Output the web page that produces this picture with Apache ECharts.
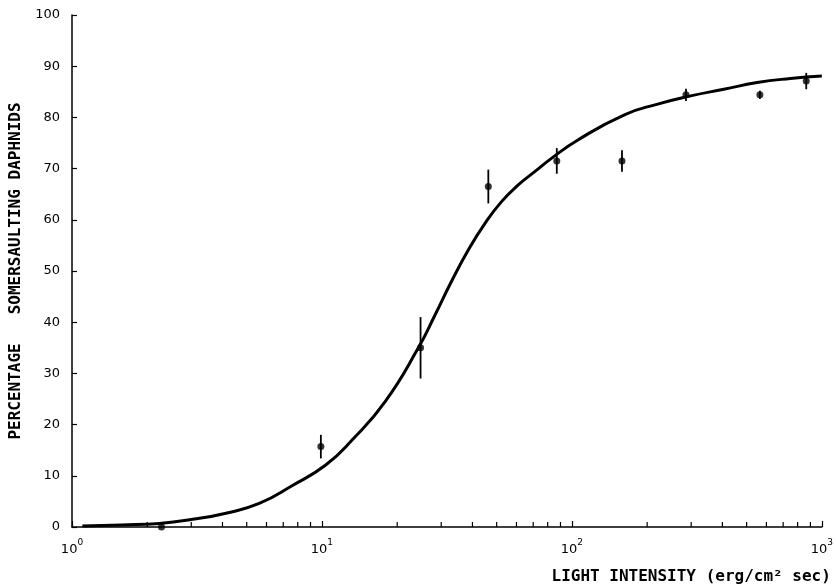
<!DOCTYPE html>
<html>
<head>
<meta charset="utf-8">
<title>Somersaulting daphnids</title>
<script src="https://cdn.jsdelivr.net/npm/echarts@6/dist/echarts.min.js"></script>
<style>
    html, body { margin: 0; padding: 0; background: #fff; }
    #main { width: 836px; height: 586px; }
</style>
</head>
<body>
<div id="main"></div>
<script>
// measured points (light intensity, percentage, error half-length)
var pointX = [2.28, 9.9, 24.8, 46.3, 87, 158.6, 286, 565, 866];
var pointY = [0, 15.7, 35, 66.5, 71.5, 71.5, 84.4, 84.4, 87.1];
var pointErr = [0, 2.3, 6, 3.3, 2.5, 2.1, 1.2, 0.8, 1.6];

// fitted curve
var curveX = [1.1, 1.58, 2.24, 3.04, 4.13, 5.61, 7.62, 10.35, 13.2, 17.9, 24.3, 28.4, 33, 38.5, 44.9, 52.2, 61, 71, 82.8, 105.7, 162.2, 220.3, 298.5, 405.5, 550.8, 748.2, 1000];
var curveY = [0.2, 0.4, 0.7, 1.5, 2.7, 4.6, 8.1, 12.1, 17, 24.5, 35, 41.5, 48, 54.1, 59.3, 63.5, 66.8, 69.4, 72, 75.6, 80.5, 82.6, 84.2, 85.5, 86.8, 87.6, 88.1];

// log axis labels (base, exponent) and minor ticks
var majorTicks = [1, 10, 100, 1000];
var majorExp = ['0', '1', '2', '3'];
var minorTicks = [2, 3, 4, 5, 6, 7, 8, 9, 20, 30, 40, 50, 60, 70, 80, 90, 200, 300, 400, 500, 600, 700, 800, 900];

var ink = '#000';
var font = 'DejaVu Sans';
var letterFont = 'DejaVu Sans Mono';

var pointData = [];
var errData = [];
for (var i = 0; i < pointX.length; i++) {
    pointData.push([pointX[i], pointY[i]]);
    if (pointErr[i] > 0) {
        errData.push([pointX[i], pointY[i] - pointErr[i], pointY[i] + pointErr[i]]);
    }
}
var curveData = [];
for (var j = 0; j < curveX.length; j++) {
    curveData.push([curveX[j], curveY[j]]);
}
var minorData = [];
for (var k = 0; k < minorTicks.length; k++) {
    minorData.push([minorTicks[k], 0]);
}

var myChart = echarts.init(document.getElementById('main'), null, { renderer: 'canvas' });
var option = {
    animation: false,
    backgroundColor: '#fff',
    grid: { left: 72, right: 12, top: 15, bottom: 59 },
    xAxis: {
        type: 'log',
        logBase: 10,
        min: 1,
        max: 1000,
        splitLine: { show: false },
        axisLine: { lineStyle: { color: ink, width: 1.5 } },
        axisTick: { inside: true, length: 6, lineStyle: { color: ink, width: 1.2 } },
        axisLabel: {
            color: ink, fontFamily: font, fontSize: 13, margin: 11,
            formatter: function (v) {
                var idx = majorTicks.indexOf(Math.round(v));
                return idx >= 0 ? '{b|10}{s|' + majorExp[idx] + '}' : '';
            },
            rich: {
                b: { fontFamily: font, fontSize: 13, color: ink, verticalAlign: 'bottom', lineHeight: 18 },
                s: { fontFamily: font, fontSize: 9, color: ink, verticalAlign: 'top', lineHeight: 10 }
            }
        },
        name: 'LIGHT INTENSITY (erg/cm\u00b2 sec)',
        nameLocation: 'end',
        nameGap: 9,
        nameTextStyle: {
            color: ink, fontFamily: letterFont, fontSize: 16, fontWeight: 'bold',
            align: 'right', verticalAlign: 'top', padding: [42, 0, 0, 0]
        }
    },
    yAxis: {
        type: 'value',
        min: 0,
        max: 100,
        interval: 10,
        splitLine: { show: false },
        axisLine: { show: true, lineStyle: { color: ink, width: 1.5 } },
        axisTick: { show: true, inside: true, length: 5, lineStyle: { color: ink, width: 1.2 } },
        axisLabel: { color: ink, fontFamily: font, fontSize: 13, margin: 12 },
        name: 'PERCENTAGE   SOMERSAULTING DAPHNIDS',
        nameLocation: 'middle',
        nameGap: 47,
        nameTextStyle: { color: ink, fontFamily: letterFont, fontSize: 16, fontWeight: 'bold' }
    },
    series: [
        {
            // minor ticks of the log axis
            type: 'custom',
            silent: true,
            clip: false,
            data: minorData,
            renderItem: function (params, api) {
                var p = api.coord([api.value(0), 0]);
                return {
                    type: 'line',
                    shape: { x1: p[0], y1: p[1], x2: p[0], y2: p[1] - 5 },
                    style: { stroke: ink, lineWidth: 1.2 }
                };
            }
        },
        {
            type: 'line',
            smooth: 0.5,
            showSymbol: false,
            data: curveData,
            lineStyle: { color: ink, width: 3 },
            z: 3
        },
        {
            // error bars
            type: 'custom',
            clip: false,
            data: errData,
            renderItem: function (params, api) {
                var lo = api.coord([api.value(0), api.value(1)]);
                var hi = api.coord([api.value(0), api.value(2)]);
                return {
                    type: 'line',
                    shape: { x1: lo[0], y1: lo[1], x2: hi[0], y2: hi[1] },
                    style: { stroke: ink, lineWidth: 1.8 }
                };
            },
            z: 4
        },
        {
            type: 'scatter',
            symbol: 'circle',
            symbolSize: 7,
            clip: false,
            data: pointData,
            itemStyle: { color: ink },
            z: 5
        }
    ]
};
myChart.setOption(option);
</script>
</body>
</html>
